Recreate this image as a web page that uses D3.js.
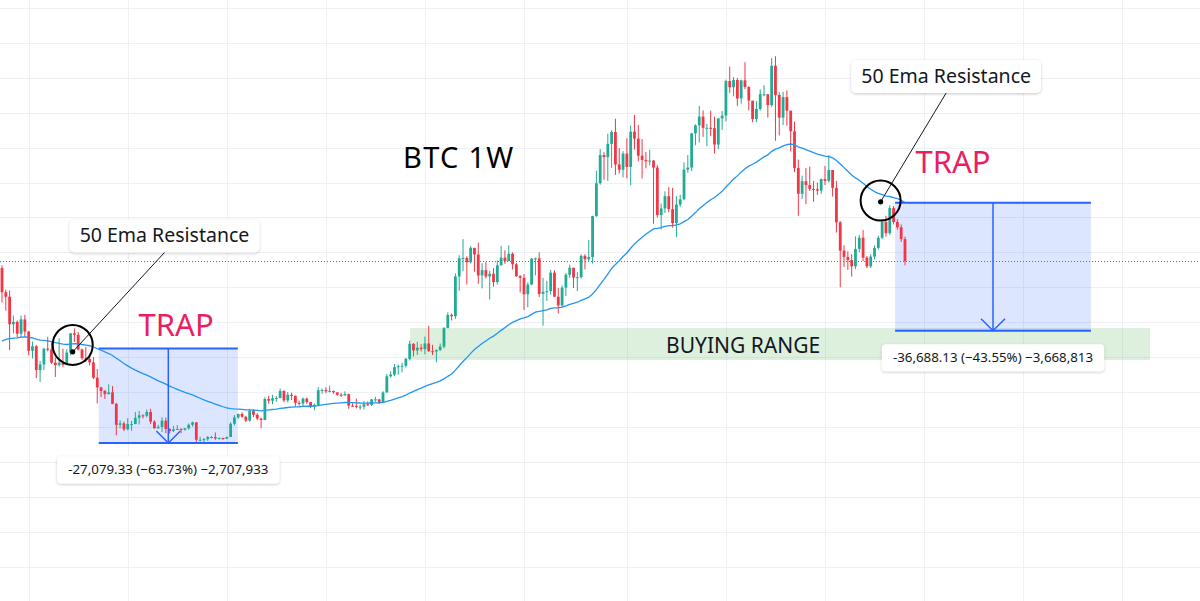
<!DOCTYPE html>
<html>
<head>
<meta charset="utf-8">
<script src="https://cdn.jsdelivr.net/npm/d3@7"></script>
<style>
  body { margin: 0; background: #fff; }
  svg { display: block; font-family: "Noto Sans", "Open Sans", sans-serif; }
</style>
</head>
<body>
<svg id="chart" width="1200" height="601"></svg>
<script>
// BTC/USD weekly candles, prices in thousands of USD
// first bar = week of 15 Nov 2021, one entry per week
const firstOpen = 65.5

const closes = [
  // 2021
  58.6, 57.3, 49.4, 50.1, 46.7, 50.8, 47.3,
  // 2022
  41.8, 43.1, 36.3, 37.9, 42.4, 42.2, 38.4, 37.7, 38.4, 37.8, 41.3, 46.8, 46.4, 42.2, 39.7, 39.5,
  38.5, 34.1, 31.3, 30.3, 29.4, 29.9, 26.6, 20.6, 21.0, 19.3, 20.8, 20.8, 22.6, 23.3, 23.2, 24.3,
  21.5, 19.6, 20.0, 21.8, 19.4, 18.8, 19.3, 19.4, 19.2, 19.6, 20.6, 21.3, 16.3, 16.3, 16.5, 17.1,
  17.1, 16.7, 16.8, 16.6,
  // 2023
  17.1, 20.9, 22.7, 23.7, 22.9, 21.8, 24.6, 23.5, 22.4, 22.0, 28.0, 27.5, 28.2, 28.3, 30.3, 27.6,
  29.2, 28.9, 26.9, 26.7, 28.1, 27.1, 25.9, 26.3, 30.5, 30.6, 30.2, 30.3, 29.9, 29.2, 29.0, 29.4,
  26.1, 26.0, 25.8, 25.8, 26.5, 26.3, 27.9, 27.9, 26.9, 29.9, 34.5, 35.0, 37.1, 37.4, 37.5, 39.5,
  43.8, 41.9, 42.7, 42.3,
  // 2024
  43.9, 41.7, 41.6, 42.0, 43.0, 48.3, 52.1, 51.7, 63.1, 68.3, 68.4, 67.2, 71.3, 69.4, 63.4, 64.9,
  63.1, 63.9, 61.5, 66.3, 68.5, 67.5, 69.6, 66.6, 63.2, 62.7, 58.0, 60.8, 68.2, 68.3, 58.1, 58.7,
  58.9, 64.2, 57.3, 54.8, 59.9, 63.6, 65.6, 62.8, 62.9, 69.0, 68.0, 68.7, 80.4, 89.8, 97.9, 97.3,
  101.1, 104.5, 95.2, 93.7, 98.3,
  // 2025
  94.5, 104.6, 102.6, 97.7, 96.5, 96.1, 96.3, 94.3, 80.7, 82.6, 86.1, 82.4, 78.4, 83.7, 85.2, 93.7,
  94.3, 104.1, 106.4, 108.9, 105.7, 105.7, 105.6, 100.9, 108.4, 109.2, 119.1, 117.3, 119.4, 114.1,
  119.3, 117.4, 113.5, 108.2, 111.1, 115.3, 115.3, 112.2, 123.5, 115.1, 108.6, 114.5, 110.6, 104.7,
  94.2, 86.8, 90.4, 89.3, 88.2, 88.1, 87.7, 91.0,
  // 2026
  90.5, 93.6, 88.5, 78.6, 70.5, 68.7, 67.8, 66.0, 71.0, 74.2, 68.5, 66.0, 68.8, 71.3, 74.2, 78.7,
  75.5, 82.7, 78.7, 77.2, 73.8, 67.5
]

const highs = [
  66.3, 59.3, 59.1, 51.9, 50.5, 51.9, 52.1,
  47.5, 44.4, 43.5, 38.9, 42.7, 45.8, 44.6, 39.8, 45.4, 42.4, 42.3, 46.9, 48.2, 47.2, 42.4, 42.9,
  40.7, 40.0, 36.6, 31.5, 30.6, 32.2, 31.7, 26.9, 21.9, 21.5, 22.5, 21.7, 24.3, 24.6, 23.6, 25.0,
  25.2, 21.9, 20.6, 22.8, 22.7, 19.6, 20.3, 20.5, 19.6, 19.7, 21.0, 21.5, 21.4, 17.2, 16.8, 17.4,
  17.4, 18.4, 17.0, 16.9,
  17.2, 21.3, 23.4, 23.8, 24.2, 23.2, 25.2, 25.1, 23.9, 22.6, 28.5, 28.9, 29.2, 28.8, 31.0, 30.5,
  30.0, 29.8, 29.0, 27.5, 28.4, 28.4, 27.1, 26.7, 31.4, 31.0, 31.4, 31.8, 30.4, 29.8, 29.7, 30.2,
  29.5, 26.8, 28.1, 26.4, 27.4, 27.3, 28.0, 28.6, 27.9, 30.2, 35.2, 35.9, 38.0, 37.9, 38.4, 39.8,
  44.7, 44.0, 44.4, 43.7,
  45.9, 49.0, 43.5, 42.2, 43.9, 48.6, 52.8, 52.5, 64.0, 69.2, 73.8, 68.9, 71.8, 71.3, 72.8, 66.9,
  67.2, 64.7, 65.5, 67.7, 71.9, 70.6, 72.0, 70.0, 67.0, 63.5, 63.8, 61.4, 68.4, 68.5, 70.0, 62.7,
  61.8, 65.0, 64.9, 59.8, 60.6, 64.1, 66.5, 65.6, 64.4, 69.4, 69.5, 73.6, 80.5, 93.4, 99.6, 98.7,
  104.0, 105.0, 108.3, 99.9, 99.0,
  102.7, 106.4, 109.4, 106.5, 102.5, 98.8, 99.4, 96.5, 95.0, 84.0, 87.5, 88.7, 88.5, 86.1, 86.5, 95.8,
  97.9, 104.3, 106.7, 112.0, 110.7, 106.8, 110.6, 108.9, 108.5, 110.5, 119.5, 123.2, 120.2, 120.0,
  119.5, 124.5, 117.6, 113.3, 113.4, 116.7, 117.9, 115.4, 125.7, 126.2, 115.9, 116.0, 116.4, 110.6,
  107.5, 96.6, 92.0, 94.2, 94.6, 90.5, 90.0, 91.2,
  94.8, 97.9, 93.6, 90.5, 79.0, 72.0, 70.3, 69.5, 74.6, 75.0, 76.4, 69.0, 69.5, 72.0, 74.8, 79.5,
  80.5, 83.5, 83.3, 79.5, 78.0, 74.5
]

const lows = [
  55.6, 53.3, 42.0, 46.8, 45.6, 45.6, 45.7,
  40.5, 39.6, 34.0, 32.9, 36.3, 41.6, 38.0, 34.3, 37.3, 37.2, 37.6, 40.5, 44.3, 41.9, 39.2, 38.6,
  37.6, 33.7, 26.7, 28.6, 28.0, 29.3, 26.5, 17.6, 19.6, 18.8, 19.0, 18.9, 20.8, 20.7, 22.4, 22.7,
  20.8, 19.5, 19.5, 18.5, 18.2, 18.1, 18.5, 19.1, 18.2, 18.9, 19.2, 20.1, 15.6, 15.8, 15.4, 16.0,
  16.7, 16.3, 16.4, 16.3,
  16.5, 17.1, 20.4, 22.3, 22.6, 21.4, 21.5, 22.8, 21.9, 19.6, 21.9, 26.6, 26.5, 27.2, 28.2, 27.1,
  27.0, 27.7, 25.8, 26.1, 25.9, 26.6, 25.4, 24.8, 26.3, 29.5, 29.7, 29.9, 29.5, 28.9, 28.6, 29.0,
  25.2, 25.8, 25.3, 24.9, 25.0, 26.0, 26.0, 27.2, 26.6, 26.8, 29.7, 34.1, 34.5, 34.9, 35.6, 37.0,
  39.0, 40.2, 40.6, 41.6,
  40.8, 41.5, 40.6, 38.5, 41.8, 42.5, 48.3, 50.5, 50.9, 59.0, 64.6, 60.8, 66.8, 64.5, 61.0, 59.7,
  62.5, 56.5, 60.2, 60.8, 66.2, 66.7, 67.6, 65.1, 63.0, 58.5, 53.5, 54.3, 60.6, 63.4, 57.2, 49.0,
  56.1, 57.9, 57.2, 52.5, 54.5, 57.5, 62.7, 59.8, 58.9, 62.5, 65.1, 67.5, 66.8, 80.2, 89.4, 90.8,
  90.5, 94.2, 92.2, 92.6, 91.5,
  91.2, 89.3, 99.5, 96.1, 91.2, 94.1, 94.9, 78.2, 80.0, 76.6, 81.3, 81.5, 77.1, 74.4, 83.0, 85.1,
  92.8, 93.3, 100.7, 101.5, 103.1, 100.4, 103.3, 98.3, 99.6, 105.1, 107.5, 115.7, 114.7, 112.0,
  112.6, 116.8, 110.7, 107.3, 107.3, 110.6, 114.7, 108.6, 111.6, 102.0, 103.5, 106.5, 106.3, 98.9,
  93.0, 80.5, 85.3, 83.8, 87.6, 84.5, 86.5, 86.8,
  89.3, 90.0, 86.0, 75.7, 60.0, 65.8, 65.0, 63.1, 65.2, 70.0, 67.5, 65.5, 65.5, 68.0, 70.8, 73.8,
  74.5, 75.0, 78.0, 76.5, 73.0, 66.3
]

// 50 EMA value at the first bar
const emaSeed = 44.6
const emaLength = 50

// horizontal grid every 10k, vertical grid at first bar of Jan / Jul
const priceGrid = [-20, -10, 0, 10, 20, 30, 40, 50, 60, 70, 80, 90, 100, 110, 120, 130, 140]
const halfYearBars = [7, 33, 59, 85, 111, 137, 164, 190, 216, 242, 268, 294]

const lastPrice = 67.5

// drawings, placed in (bar index, price in k)
const traps = [
  { from: 25.4, to: 61.9, top: 42.491, bottom: 15.412, text: '-27,079.33 (\u221263.73%) \u22122,707,933',
    ring: [18.56, 43.5], dot: [18.56, 41.5], trap: [45.7, 46.0], note: [42.65, 74.7] },
  { from: 234.4, to: 285.8, top: 84.244, bottom: 47.556, text: '-36,688.13 (\u221243.55%) \u22123,668,813',
    ring: [230.6, 84.85], dot: [230.6, 84.5], trap: [249.6, 92.7], note: [247.8, 120.4] }
]
const buyingRange = { from: 107.1, to: 301.3, top: 48.34, bottom: 39.17, labelAt: [194.5, 41.2] }

const width = 1200
const height = 601
const svg = d3.select('#chart')

const x = d3.scaleLinear().domain([0, 237]).range([2, 905])
const y = d3.scaleLinear().domain([-29.885, 142.32]).range([height, 0])

const candles = closes.map((c, i) => ({
  i: i,
  open: i === 0 ? firstOpen : closes[i - 1],
  close: c,
  high: highs[i],
  low: lows[i]
}))

const k = 2 / (emaLength + 1)
const ema = []
candles.forEach((d, i) => {
  const prev = i === 0 ? emaSeed : ema[i - 1].v
  ema.push({ i: i, v: i === 0 ? emaSeed : prev + k * (d.close - prev) })
})

const defs = svg.append('defs')
const shadow = defs.append('filter').attr('id', 'shadow')
  .attr('x', '-20%').attr('y', '-40%').attr('width', '140%').attr('height', '180%')
shadow.append('feDropShadow')
  .attr('dx', 0).attr('dy', 1).attr('stdDeviation', 1.6)
  .attr('flood-color', '#000').attr('flood-opacity', 0.22)

// grid
svg.append('g').selectAll('line').data(priceGrid).enter().append('line')
  .attr('x1', 0).attr('x2', width)
  .attr('y1', d => Math.round(y(d)) + 0.5).attr('y2', d => Math.round(y(d)) + 0.5)
  .attr('stroke', '#eef0f3').attr('stroke-width', 1)
svg.append('g').selectAll('line').data(halfYearBars).enter().append('line')
  .attr('y1', 0).attr('y2', height)
  .attr('x1', d => Math.round(x(d)) + 0.5).attr('x2', d => Math.round(x(d)) + 0.5)
  .attr('stroke', '#eef0f3').attr('stroke-width', 1)

// buying range zone
svg.append('rect')
  .attr('x', x(buyingRange.from)).attr('width', x(buyingRange.to) - x(buyingRange.from))
  .attr('y', y(buyingRange.top)).attr('height', y(buyingRange.bottom) - y(buyingRange.top))
  .attr('fill', 'rgba(76,175,80,0.19)')

// trap boxes fill
svg.append('g').selectAll('rect').data(traps).enter().append('rect')
  .attr('x', d => x(d.from)).attr('width', d => x(d.to) - x(d.from))
  .attr('y', d => y(d.top)).attr('height', d => y(d.bottom) - y(d.top))
  .attr('fill', 'rgba(41,98,255,0.16)')

// last price line
svg.append('line')
  .attr('x1', 0).attr('x2', width)
  .attr('y1', Math.round(y(lastPrice)) + 0.5).attr('y2', Math.round(y(lastPrice)) + 0.5)
  .attr('stroke', '#f23645').attr('stroke-width', 1).attr('stroke-dasharray', '1,2')

// candles
const up = '#22ab94'
const down = '#f23645'
const candle = svg.append('g').selectAll('g').data(candles).enter().append('g')
candle.append('line')
  .attr('x1', d => x(d.i)).attr('x2', d => x(d.i))
  .attr('y1', d => y(d.high)).attr('y2', d => y(d.low))
  .attr('stroke', d => d.close >= d.open ? up : down).attr('stroke-width', 1)
candle.append('rect')
  .attr('x', d => x(d.i) - 1.4).attr('width', 2.8)
  .attr('y', d => y(Math.max(d.open, d.close)))
  .attr('height', d => Math.max(1, Math.abs(y(d.open) - y(d.close))))
  .attr('fill', d => d.close >= d.open ? up : down)

// 50 EMA
svg.append('path').datum(ema)
  .attr('d', d3.line().x(d => x(d.i)).y(d => y(d.v)))
  .attr('fill', 'none').attr('stroke', '#2196f3').attr('stroke-width', 1.3)

// trap box edges and arrows
const blue = '#2962ff'
const tg = svg.append('g').selectAll('g').data(traps).enter().append('g')
tg.append('line')
  .attr('x1', d => x(d.from)).attr('x2', d => x(d.to))
  .attr('y1', d => y(d.top)).attr('y2', d => y(d.top))
  .attr('stroke', blue).attr('stroke-width', 2)
tg.append('line')
  .attr('x1', d => x(d.from)).attr('x2', d => x(d.to))
  .attr('y1', d => y(d.bottom)).attr('y2', d => y(d.bottom))
  .attr('stroke', blue).attr('stroke-width', 2)
tg.append('line')
  .attr('x1', d => x((d.from + d.to) / 2)).attr('x2', d => x((d.from + d.to) / 2))
  .attr('y1', d => y(d.top)).attr('y2', d => y(d.bottom))
  .attr('stroke', blue).attr('stroke-width', 1.5)
tg.append('path')
  .attr('d', d => {
    const ax = x((d.from + d.to) / 2)
    const ay = y(d.bottom)
    return `M${ax - 12},${ay - 12}L${ax},${ay}L${ax + 12},${ay - 12}`
  })
  .attr('fill', 'none').attr('stroke', blue).attr('stroke-width', 1.5)

// measure labels
tg.each(function (d) {
  const g = d3.select(this)
  const cx = x((d.from + d.to) / 2)
  const cy = y(d.bottom) + 27
  const t = g.append('text').attr('x', cx).attr('y', cy + 4.5)
    .attr('text-anchor', 'middle')
    .attr('font-size', 13.3).attr('fill', '#131722').text(d.text)
  const w = t.node().getComputedTextLength() + 22
  g.insert('rect', 'text')
    .attr('x', cx - w / 2).attr('y', cy - 13.5).attr('width', w).attr('height', 27)
    .attr('rx', 4).attr('fill', '#fff').attr('filter', 'url(#shadow)')
})

// resistance rings and callouts
tg.append('line')
  .attr('x1', d => x(d.dot[0])).attr('y1', d => y(d.dot[1]))
  .attr('x2', d => x(d.note[0])).attr('y2', d => y(d.note[1]) + 16.5)
  .attr('stroke', '#131722').attr('stroke-width', 1)
tg.append('circle')
  .attr('cx', d => x(d.ring[0])).attr('cy', d => y(d.ring[1])).attr('r', 20)
  .attr('fill', 'none').attr('stroke', '#000').attr('stroke-width', 2)
tg.append('circle')
  .attr('cx', d => x(d.dot[0])).attr('cy', d => y(d.dot[1])).attr('r', 2.6)
  .attr('fill', '#000')
tg.each(function (d) {
  const g = d3.select(this)
  const cx = x(d.note[0])
  const cy = y(d.note[1])
  const t = g.append('text').attr('x', cx).attr('y', cy + 6.5)
    .attr('text-anchor', 'middle')
    .attr('font-size', 19.5).attr('fill', '#131722').text('50 Ema Resistance')
  const w = t.node().getComputedTextLength() + 20
  g.insert('rect', 'text')
    .attr('x', cx - w / 2).attr('y', cy - 16.5).attr('width', w).attr('height', 33)
    .attr('rx', 5).attr('fill', '#fff').attr('filter', 'url(#shadow)')
})
tg.append('text')
  .attr('x', d => x(d.trap[0])).attr('y', d => y(d.trap[1]))
  .attr('text-anchor', 'middle')
  .attr('font-size', 31).attr('fill', '#e91e63').text('TRAP')

// titles
svg.append('text').attr('x', 403).attr('y', 168)
  .attr('font-size', 29).attr('letter-spacing', 1.3).attr('fill', '#000').text('BTC 1W')
svg.append('text')
  .attr('x', x(buyingRange.labelAt[0])).attr('y', y(buyingRange.labelAt[1]))
  .attr('text-anchor', 'middle')
  .attr('font-size', 21).attr('fill', '#131722').text('BUYING RANGE')
</script>
</body>
</html>
